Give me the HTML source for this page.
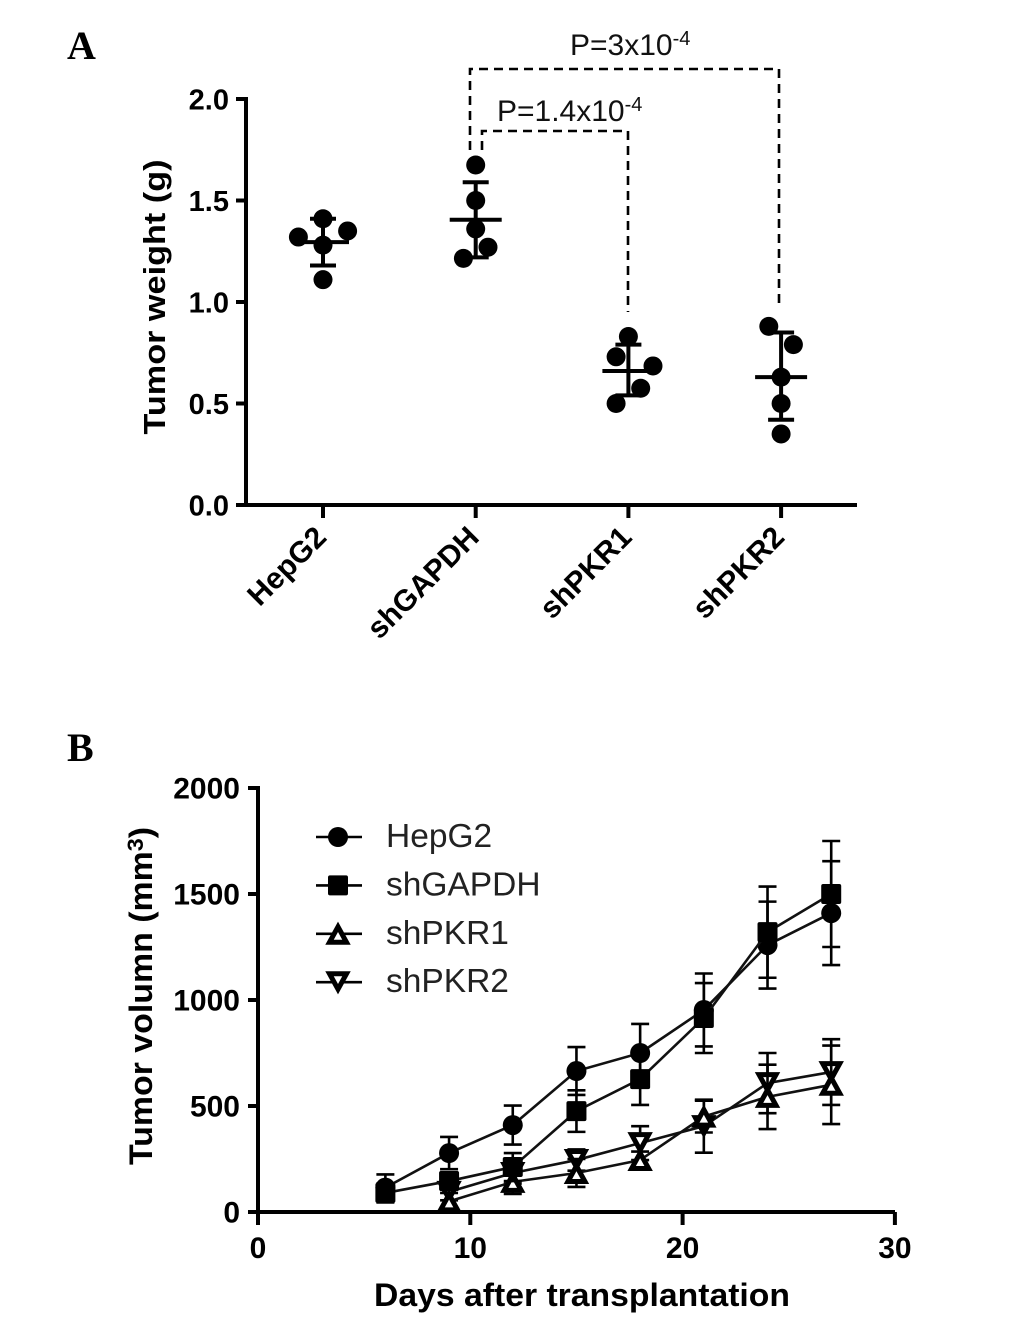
<!DOCTYPE html>
<html lang="en">
<head>
<meta charset="utf-8">
<title>Tumor weight and volume</title>
<style>
html,body{margin:0;padding:0;background:#fff}
svg{display:block}
text{font-family:"Liberation Sans",sans-serif;fill:#000}
.tick{font-weight:bold;font-size:29px}
.title{font-weight:bold}
.panel{font-family:"Liberation Serif",serif;font-weight:bold;font-size:40px}
.note{font-size:30px;fill:#111}
.leg{font-size:33.5px;fill:#222}
</style>
</head>
<body>
<svg id="fig" width="1033" height="1321" viewBox="0 0 1033 1321" xmlns="http://www.w3.org/2000/svg">
  <text class="panel" x="67" y="59">A</text>
  <text class="panel" x="67" y="761">B</text>
  <g fill="none" stroke="#000" stroke-width="2.6" stroke-dasharray="9 6">
    <path d="M470 150V69H779V303"/>
    <path d="M482 150V131H628V312"/>
  </g>
  <text class="note" x="570" y="55">P=3x10<tspan font-size="20" dy="-10">-4</tspan></text>
  <text class="note" x="497" y="121">P=1.4x10<tspan font-size="20" dy="-10">-4</tspan></text>
  <text class="title" font-size="31" text-anchor="middle" textLength="275" lengthAdjust="spacingAndGlyphs" transform="translate(165,297) rotate(-90)">Tumor weight (g)</text>
  <text class="title" font-size="32" text-anchor="middle" textLength="338" lengthAdjust="spacingAndGlyphs" transform="translate(152,996) rotate(-90)">Tumor volumn (mm<tspan font-size="22" dy="-9">3</tspan><tspan dy="9">)</tspan></text>
  <text class="title" font-size="32" x="582" y="1306" text-anchor="middle" textLength="416" lengthAdjust="spacingAndGlyphs">Days after transplantation</text>
</svg>
<script>
// Panel A data
const weightGroups = ['HepG2', 'shGAPDH', 'shPKR1', 'shPKR2'];
const weightValues = [
  [1.32, 1.41, 1.35, 1.28, 1.11],
  [1.675, 1.50, 1.36, 1.215, 1.27],
  [0.83, 0.73, 0.685, 0.575, 0.50],
  [0.88, 0.79, 0.63, 0.50, 0.35]
];
const weightSwarmColumn = [
  [-2, 0, 2, 0, 0],
  [0, 0, 0, -1, 1],
  [0, -1, 2, 1, -1],
  [-1, 1, 0, 0, 0]
];
const weightMeans = [1.295, 1.405, 0.66, 0.63];
const weightUpper = [1.41, 1.59, 0.79, 0.85];
const weightLower = [1.18, 1.22, 0.54, 0.42];
const weightTicks = ['0.0', '0.5', '1.0', '1.5', '2.0'];

// Panel B data
const days = [6, 9, 12, 15, 18, 21, 24, 27];
const volumeSeriesNames = ['HepG2', 'shGAPDH', 'shPKR1', 'shPKR2'];
const volumeHepG2 = [115, 278, 410, 665, 750, 953, 1259, 1410];
const volumeShGAPDH = [90, 146, 212, 476, 627, 915, 1320, 1500];
const volumeShPKR1 = [null, 50, 142, 184, 245, 450, 543, 600];
const volumeShPKR2 = [null, 95, 184, 245, 325, 405, 608, 660];
const errorHepG2 = [62, 76, 92, 113, 137, 172, 205, 245];
const errorShGAPDH = [45, 40, 66, 98, 122, 165, 215, 250];
const errorShPKR1 = [null, 40, 57, 66, 40, 75, 152, 185];
const errorShPKR2 = [null, 40, 50, 50, 80, 125, 142, 155];
const volumeXTicks = [0, 10, 20, 30];
const volumeYTicks = [0, 500, 1000, 1500, 2000];

const svg = document.getElementById('fig');
const NS = 'http://www.w3.org/2000/svg';

function mark(tag, attrs, name, parent) {
  const node = document.createElementNS(NS, tag);
  for (const k in attrs) node.setAttribute(k, attrs[k]);
  
  
  (parent || svg).appendChild(node);
  return node;
}
function label(text, attrs, name, parent) {
  const node = mark('text', attrs, name, parent);
  node.textContent = text;
  return node;
}
function line(x1, y1, x2, y2, width, name, parent) {
  return mark('line', {x1: x1, y1: y1, x2: x2, y2: y2, stroke: '#000', 'stroke-width': width}, name, parent);
}

// ---------- Panel A ----------
const axY = v => 505 - v * 203;
const axX = i => 323 + i * 152.7;
const gA = mark('g', {}, 'weight-chart');
line(246, 97, 246, 507, 4, 'weight-y-axis', gA);
line(244, 505, 857, 505, 4, 'weight-x-axis', gA);
weightTicks.forEach(t => {
  const v = parseFloat(t);
  line(236, axY(v), 246, axY(v), 4, 'weight-y-tick-' + t, gA);
  label(t, {class: 'tick', x: 229, y: axY(v) + 10.5, 'text-anchor': 'end'}, 'weight-y-label-' + t, gA);
});
weightGroups.forEach((g, i) => {
  const x = axX(i);
  line(x, 505, x, 518, 4, 'weight-x-tick-' + g, gA);
  label(g, {class: 'tick', style: 'font-size:30px', 'text-anchor': 'end', transform: 'translate(' + (x + 5) + ',539) rotate(-45)'}, 'weight-x-label-' + g, gA);
  const grp = mark('g', {}, 'weight-group-' + g, gA);
  line(x, axY(weightUpper[i]), x, axY(weightLower[i]), 4, 'weight-error-bar-' + g, grp);
  line(x - 13, axY(weightUpper[i]), x + 13, axY(weightUpper[i]), 4, 'weight-upper-cap-' + g, grp);
  line(x - 13, axY(weightLower[i]), x + 13, axY(weightLower[i]), 4, 'weight-lower-cap-' + g, grp);
  line(x - 26, axY(weightMeans[i]), x + 26, axY(weightMeans[i]), 4, 'weight-mean-' + g, grp);
  weightValues[i].forEach((v, j) => {
    mark('circle', {cx: x + weightSwarmColumn[i][j] * 12.3, cy: axY(v), r: 9.5, fill: '#000'}, 'weight-point-' + g, grp);
  });
});

// ---------- Panel B ----------
const bxX = d => 258 + d * 21.23;
const bxY = v => 1212 - v * 0.212;
const gB = mark('g', {}, 'volume-chart');
line(258, 786, 258, 1214, 4, 'volume-y-axis', gB);
line(256, 1212, 895, 1212, 4, 'volume-x-axis', gB);
volumeYTicks.forEach(t => {
  line(248, bxY(t), 258, bxY(t), 4, 'volume-y-tick-' + t, gB);
  label(String(t), {class: 'tick', style: 'font-size:30px', x: 240, y: bxY(t) + 10.5, 'text-anchor': 'end'}, 'volume-y-label-' + t, gB);
});
volumeXTicks.forEach(t => {
  line(bxX(t), 1212, bxX(t), 1225, 4, 'volume-x-tick-' + t, gB);
  label(String(t), {class: 'tick', style: 'font-size:30px', x: bxX(t), y: 1258, 'text-anchor': 'middle'}, 'volume-x-label-' + t, gB);
});

function drawMarker(kind, x, y, parent, name) {
  if (kind === 0) {
    mark('circle', {cx: x, cy: y, r: 10, fill: '#000'}, name, parent);
  } else if (kind === 1) {
    mark('rect', {x: x - 10, y: y - 10, width: 20, height: 20, rx: 2, fill: '#000'}, name, parent);
  } else {
    const s = kind === 2 ? 1 : -1;
    const pts = [[x, y - s * 7], [x - 8.5, y + s * 8.5], [x + 8.5, y + s * 8.5]];
    mark('polygon', {points: pts.map(p => p.join(',')).join(' '), fill: '#fff', stroke: '#000', 'stroke-width': 5, 'stroke-linejoin': 'miter'}, name, parent);
  }
}

const volumeSeries = [volumeHepG2, volumeShGAPDH, volumeShPKR1, volumeShPKR2];
const volumeErrors = [errorHepG2, errorShGAPDH, errorShPKR1, errorShPKR2];
const drawOrder = [3, 2, 0, 1];
drawOrder.forEach(s => {
  const vals = volumeSeries[s];
  const name = volumeSeriesNames[s];
  const grp = mark('g', {}, 'volume-series-' + name, gB);
  const pts = [];
  vals.forEach((v, i) => { if (v !== null) pts.push(bxX(days[i]) + ',' + bxY(v)); });
  mark('polyline', {points: pts.join(' '), fill: 'none', stroke: '#111', 'stroke-width': 2.6}, 'volume-line-' + name, grp);
  vals.forEach((v, i) => {
    if (v === null) return;
    const x = bxX(days[i]);
    const e = volumeErrors[s][i];
    const top = bxY(v + e);
    const bot = bxY(Math.max(v - e, 0));
    line(x, top, x, bot, 2.6, 'volume-error-' + name + '-day-' + days[i], grp);
    line(x - 9, top, x + 9, top, 2.6, 'volume-cap-top-' + name + '-day-' + days[i], grp);
    line(x - 9, bot, x + 9, bot, 2.6, 'volume-cap-bottom-' + name + '-day-' + days[i], grp);
    drawMarker(s, x, bxY(v), grp, 'volume-point-' + name + '-day-' + days[i]);
  });
});

// Legend
const legendGroup = mark('g', {}, 'legend');
volumeSeriesNames.forEach((n, s) => {
  const y = 837 + s * 48.4;
  const entry = mark('g', {}, 'legend-entry-' + n, legendGroup);
  line(316, y, 362, y, 2.6, 'legend-line-' + n, entry);
  drawMarker(s, 338, y, entry, 'legend-marker-' + n);
  label(n, {class: 'leg', x: 386, y: y + 10}, 'legend-label-' + n, entry);
});
</script>
</body>
</html>
